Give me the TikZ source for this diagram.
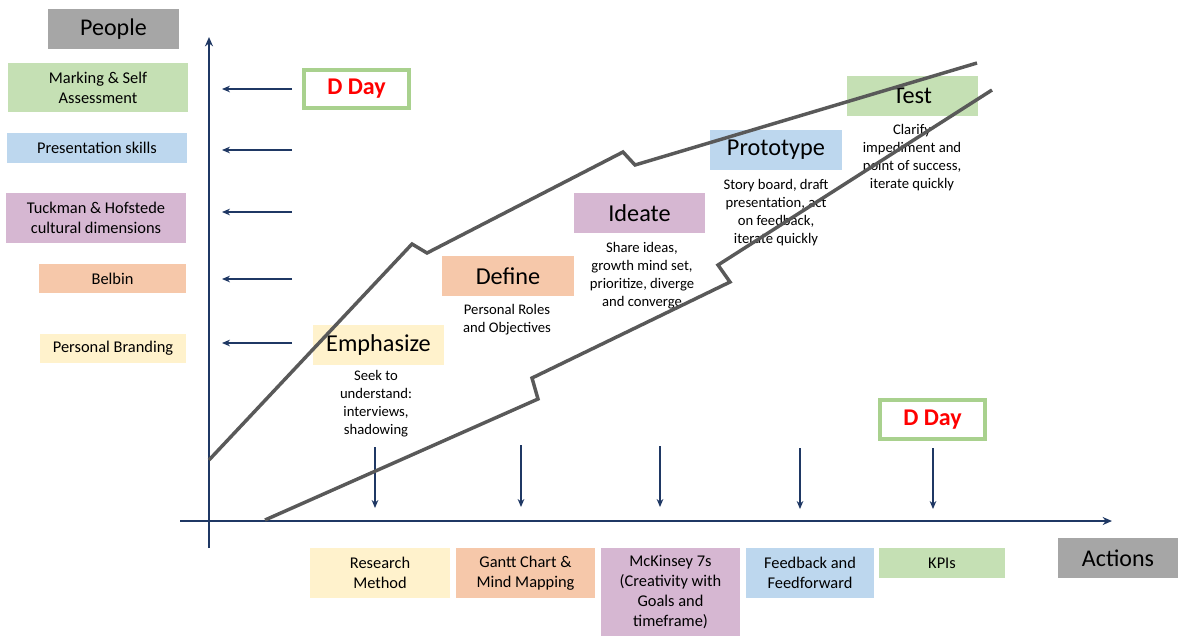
\documentclass[tikz,border=0pt]{standalone}
\usepackage{fontspec}
\setmainfont{Carlito}
\usetikzlibrary{arrows.meta}

\definecolor{navy}{HTML}{1F3864}
\definecolor{linegray}{HTML}{595959}
\definecolor{boxgray}{HTML}{A6A6A6}
\definecolor{bgreen}{HTML}{C5E0B4}
\definecolor{bblue}{HTML}{BDD7EE}
\definecolor{bpurple}{HTML}{D6B7D2}
\definecolor{borange}{HTML}{F6C8AA}
\definecolor{byellow}{HTML}{FFF2CC}
\definecolor{dgreen}{HTML}{A9D18E}
\definecolor{dred}{HTML}{FF0000}

\begin{document}
\begin{tikzpicture}[x=0.75pt,y=-0.75pt,
  box/.style={draw=none, inner sep=0pt, align=center, text=black},
  sz/.style 2 args={minimum width=#1*0.75pt, minimum height=#2*0.75pt},
  lbl/.style={box, font=\fontsize{12.3}{15}\selectfont},
  stage/.style={box, font=\fontsize{18.2}{20}\selectfont},
  head/.style={box, fill=boxgray, font=\fontsize{18}{20}\selectfont},
  note/.style={inner sep=0pt, align=center, font=\fontsize{11}{13.5}\selectfont},
  dday/.style={draw=dgreen, line width=3pt, fill=white, inner sep=0pt,
    text=dred, font=\fontsize{18}{20}\selectfont\bfseries},
  axis/.style={draw=navy, line width=1.5pt, -{Stealth[length=7pt,width=6pt]}},
  pointer/.style={draw=navy, line width=0.8pt, -{Stealth[length=6pt,width=5pt]}},
  track/.style={draw=linegray, line width=2.6pt}]

\useasboundingbox (0,0) rectangle (1178,637);

% headings
\node[head, sz={131}{40}] (people) at (113.5,29) {People};
\node[head, sz={120}{40}] (actions) at (1118,558) {Actions};

% people-side topics
\node[lbl, sz={180}{49}, fill=bgreen]  (mark)   at (98,87.5)  {Marking \& Self\\Assessment};
\node[lbl, sz={180}{30}, fill=bblue]   (pres)   at (97,148)   {Presentation skills};
\node[lbl, sz={180}{50}, fill=bpurple] (tuck)   at (96,218)   {Tuckman \& Hofstede\\cultural dimensions};
\node[lbl, sz={147}{29}, fill=borange] (belbin) at (112.5,278.5) {Belbin};
\node[lbl, sz={146}{29}, fill=byellow] (brand)  at (113,348.5) {Personal Branding};

% action-side topics
\node[lbl, sz={140}{50}, fill=byellow] (research) at (380,573)   {Research\\Method};
\node[lbl, sz={139}{50}, fill=borange] (gantt)    at (525.5,573) {Gantt Chart \&\\Mind Mapping};
\node[lbl, sz={139}{88}, fill=bpurple] (mck)      at (670.5,592) {McKinsey 7s\\(Creativity with\\Goals and\\timeframe)};
\node[lbl, sz={128}{50}, fill=bblue]   (feed)     at (810,573)   {Feedback and\\Feedforward};
\node[lbl, sz={126}{30}, fill=bgreen]  (kpi)      at (942,563)   {KPIs};

% design-thinking stages
\node[stage, sz={131}{40}, fill=byellow] (emph)  at (378.5,345) {Emphasize};
\node[stage, sz={132}{40}, fill=borange] (defn)  at (508,276)   {Define};
\node[stage, sz={131}{40}, fill=bpurple] (idea)  at (639.5,213) {Ideate};
\node[stage, sz={132}{40}, fill=bblue]   (proto) at (776,150)   {Prototype};
\node[stage, sz={131}{40}, fill=bgreen]  (test)  at (912.5,96)  {Test};

\node[note] (emphN)  at (376,404)  {Seek to\\understand:\\interviews,\\shadowing};
\node[note] (defnN)  at (507,320)  {Personal Roles\\and Objectives};
\node[note] (ideaN)  at (642,275.5) {Share ideas,\\growth mind set,\\prioritize, diverge\\and converge};
\node[note] (protoN) at (776,213)  {Story board, draft\\presentation, act\\on feedback,\\iterate quickly};
\node[note] (testN)  at (912,158)  {Clarify\\impediment and\\point of success,\\iterate quickly};

% milestones
\node[dday, sz={105}{38}] (ddayA) at (356.5,89)    {D Day};
\node[dday, sz={105}{39}] (ddayB) at (932.5,419.5) {D Day};

% axes
\coordinate (ybot) at (209,548);
\coordinate (ytop) at (209,37);
\coordinate (xleft) at (180,521);
\coordinate (xright) at (1112,521);
\draw[axis] (ybot) -- (ytop);
\draw[axis] (xleft) -- (xright);

% pointers towards the people axis
\foreach \n/\y in {a/89,b/150,c/212,d/279,e/343}{
  \coordinate (pf\n) at (292,\y);
  \coordinate (pt\n) at (222,\y);
  \draw[pointer] (pf\n) -- (pt\n);
}

% pointers towards the action axis
\foreach \n/\x/\ya/\yb in {a/375/447/508,b/521/445/507,c/660/446/507,d/800/448/509,e/933/448/509}{
  \coordinate (af\n) at (\x,\ya);
  \coordinate (at\n) at (\x,\yb);
  \draw[pointer] (af\n) -- (at\n);
}

% the two stepped progress tracks
\draw[track] (209,460) -- (412,244) -- (427,253) -- (623,152) -- (635,165) -- (977,63);
\draw[track] (265,520) -- (538,399) -- (532,378) -- (730,282) -- (718,265) -- (992,90);

\end{tikzpicture}
\end{document}
